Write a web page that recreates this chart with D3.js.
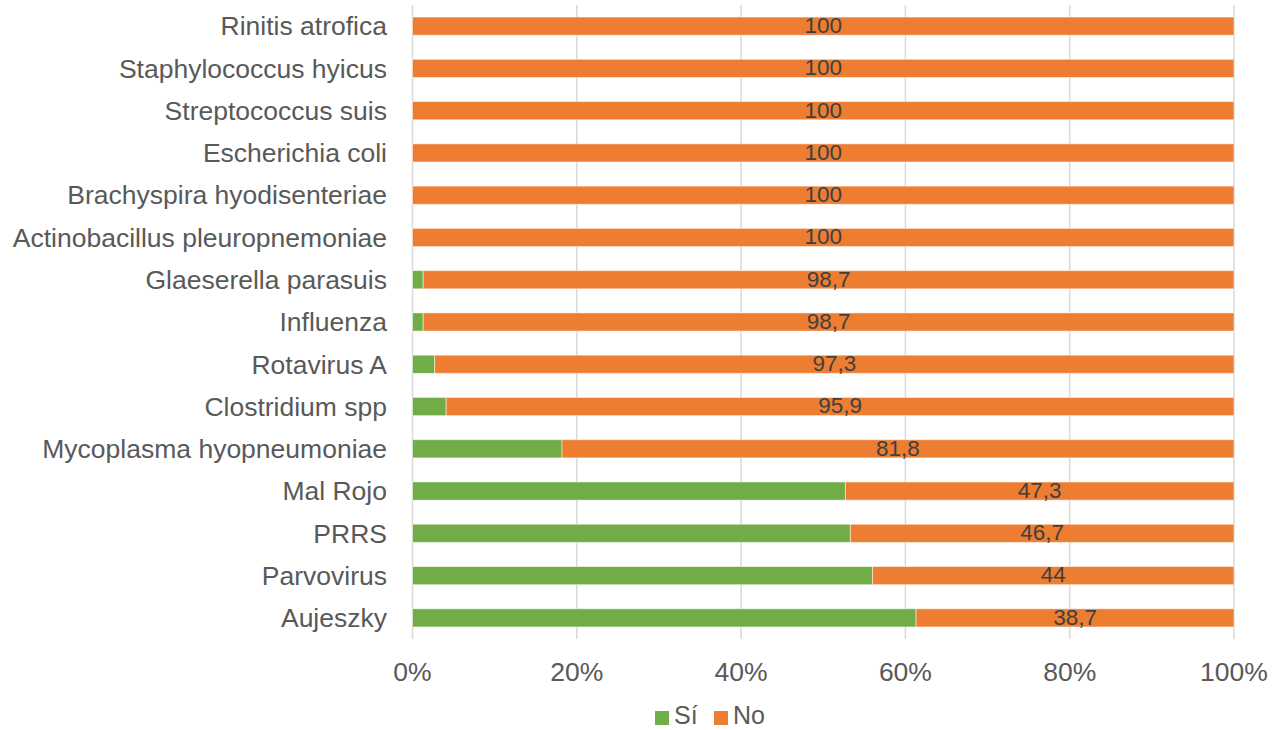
<!DOCTYPE html>
<html>
<head>
<meta charset="utf-8">
<script src="https://cdn.jsdelivr.net/npm/d3@7/dist/d3.min.js"></script>
<style>
  body { margin: 0; background: #fff; }
  text { font-family: "Liberation Sans", Arial, sans-serif; }
</style>
</head>
<body>
<script>
const categories = [
  "Rinitis atrofica", "Staphylococcus hyicus", "Streptococcus suis", "Escherichia coli",
  "Brachyspira hyodisenteriae", "Actinobacillus pleuropnemoniae", "Glaeserella parasuis",
  "Influenza", "Rotavirus A", "Clostridium spp", "Mycoplasma hyopneumoniae",
  "Mal Rojo", "PRRS", "Parvovirus", "Aujeszky"
];
const siValues = [0, 0, 0, 0, 0, 0, 1.3, 1.3, 2.7, 4.1, 18.2, 52.7, 53.3, 56, 61.3];
const noValues = [100, 100, 100, 100, 100, 100, 98.7, 98.7, 97.3, 95.9, 81.8, 47.3, 46.7, 44, 38.7];
const xTicks = [0, 20, 40, 60, 80, 100];
const seriesNames = ["Sí", "No"];
const colors = ["#70AD47", "#ED7D31"];

const width = 1272;
const height = 730;
const plotLeft = 412.5, plotRight = 1234, plotTop = 5, plotBottom = 639;

const rows = categories.map(function(c, i) {
  return { name: c, si: siValues[i], no: noValues[i] };
});

const x = d3.scaleLinear().domain([0, 100]).range([plotLeft, plotRight]);
const y = d3.scaleBand().domain(categories).range([plotTop, plotBottom]).paddingInner(0.57).paddingOuter(0.285);

const svg = d3.select("body").append("svg")
  .attr("width", width)
  .attr("height", height);

// gridlines
svg.selectAll("line.grid")
  .data(xTicks)
  .enter()
  .append("line")
    .attr("x1", function(d) { return x(d); })
    .attr("x2", function(d) { return x(d); })
    .attr("y1", plotTop)
    .attr("y2", plotBottom)
    .attr("stroke", "#d9d9d9")
    .attr("stroke-width", 1.5);

// tick labels
svg.selectAll("text.tick")
  .data(xTicks)
  .enter()
  .append("text")
    .attr("x", function(d) { return x(d); })
    .attr("y", 672)
    .attr("dy", "0.35em")
    .attr("text-anchor", "middle")
    .attr("font-size", 26.5)
    .attr("fill", "#595959")
    .text(function(d) { return d + "%"; });

// category labels
svg.selectAll("text.cat")
  .data(categories)
  .enter()
  .append("text")
    .attr("x", 387)
    .attr("y", function(d) { return y(d) + y.bandwidth() / 2; })
    .attr("dy", "0.35em")
    .attr("text-anchor", "end")
    .attr("font-size", 26.5)
    .attr("fill", "#595959")
    .text(function(d) { return d; });

// Sí bars
svg.selectAll("rect.si")
  .data(rows)
  .enter()
  .append("rect")
    .attr("x", x(0))
    .attr("y", function(d) { return y(d.name); })
    .attr("width", function(d) { return x(d.si) - x(0); })
    .attr("height", y.bandwidth())
    .attr("fill", colors[0])
    .attr("stroke", "#fff")
    .attr("stroke-opacity", 0.5)
    .attr("stroke-width", 1);

// No bars
svg.selectAll("rect.no")
  .data(rows)
  .enter()
  .append("rect")
    .attr("x", function(d) { return x(d.si); })
    .attr("y", function(d) { return y(d.name); })
    .attr("width", function(d) { return x(d.si + d.no) - x(d.si); })
    .attr("height", y.bandwidth())
    .attr("fill", colors[1])
    .attr("stroke", "#fff")
    .attr("stroke-opacity", 0.5)
    .attr("stroke-width", 1);

// No value labels
svg.selectAll("text.val")
  .data(rows)
  .enter()
  .append("text")
    .attr("x", function(d) { return (x(d.si) + x(d.si + d.no)) / 2; })
    .attr("y", function(d) { return y(d.name) + y.bandwidth() / 2 - 1; })
    .attr("dy", "0.35em")
    .attr("text-anchor", "middle")
    .attr("font-size", 22.5)
    .attr("fill", "#404040")
    .text(function(d) { return String(d.no).replace(".", ","); });

// legend
const legendX = [655, 714];
const legend = svg.selectAll("g.legend")
  .data(seriesNames)
  .enter()
  .append("g")
    .attr("transform", function(d, i) { return "translate(" + legendX[i] + ",0)"; });

legend.append("rect")
  .attr("x", 0)
  .attr("y", 711)
  .attr("width", 14)
  .attr("height", 14)
  .attr("fill", function(d, i) { return colors[i]; });

legend.append("text")
  .attr("x", 19)
  .attr("y", 715)
  .attr("dy", "0.35em")
  .attr("font-size", 25)
  .attr("fill", "#595959")
  .text(function(d) { return d; });
</script>
</body>
</html>
